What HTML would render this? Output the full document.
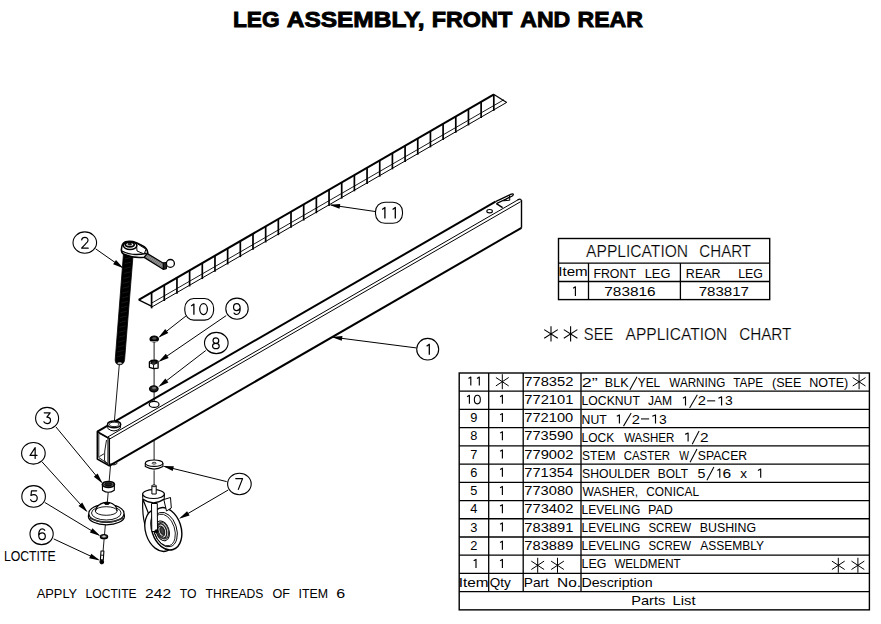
<!DOCTYPE html>
<html><head><meta charset="utf-8"><title>Leg Assembly, Front and Rear</title>
<style>
html,body{margin:0;padding:0;background:#fff;}
body{width:881px;height:624px;overflow:hidden;}
svg{display:block;font-family:"Liberation Sans",sans-serif;}
text{fill:#000;}
.thin{stroke:#fff;stroke-width:0.2px;}
</style></head><body>
<svg width="881" height="624" viewBox="0 0 881 624">
<rect width="881" height="624" fill="#fff"/>
<line x1="138.70" y1="299.80" x2="494.00" y2="94.45" stroke="#000" stroke-width="2.1"/>
<line x1="494.00" y1="94.45" x2="506.70" y2="102.40" stroke="#000" stroke-width="1.2"/>
<line x1="138.70" y1="299.80" x2="151.40" y2="306.20" stroke="#000" stroke-width="1.3"/>
<line x1="151.60" y1="303.15" x2="503.80" y2="99.79" stroke="#000" stroke-width="0.9"/>
<line x1="151.60" y1="307.15" x2="506.70" y2="102.42" stroke="#000" stroke-width="1.0"/>
<line x1="151.60" y1="292.15" x2="151.60" y2="308.35" stroke="#000" stroke-width="1.7"/>
<line x1="164.27" y1="284.83" x2="164.27" y2="301.03" stroke="#000" stroke-width="1.7"/>
<line x1="176.95" y1="277.52" x2="176.95" y2="293.72" stroke="#000" stroke-width="1.7"/>
<line x1="189.62" y1="270.20" x2="189.62" y2="286.40" stroke="#000" stroke-width="1.7"/>
<line x1="202.30" y1="262.88" x2="202.30" y2="279.08" stroke="#000" stroke-width="1.7"/>
<line x1="214.97" y1="255.56" x2="214.97" y2="271.76" stroke="#000" stroke-width="1.7"/>
<line x1="227.64" y1="248.24" x2="227.64" y2="264.44" stroke="#000" stroke-width="1.7"/>
<line x1="240.32" y1="240.93" x2="240.32" y2="257.13" stroke="#000" stroke-width="1.7"/>
<line x1="252.99" y1="233.61" x2="252.99" y2="249.81" stroke="#000" stroke-width="1.7"/>
<line x1="265.67" y1="226.29" x2="265.67" y2="242.49" stroke="#000" stroke-width="1.7"/>
<line x1="278.34" y1="218.97" x2="278.34" y2="235.17" stroke="#000" stroke-width="1.7"/>
<line x1="291.01" y1="211.65" x2="291.01" y2="227.85" stroke="#000" stroke-width="1.7"/>
<line x1="303.69" y1="204.34" x2="303.69" y2="220.54" stroke="#000" stroke-width="1.7"/>
<line x1="316.36" y1="197.02" x2="316.36" y2="213.22" stroke="#000" stroke-width="1.7"/>
<line x1="329.04" y1="189.70" x2="329.04" y2="205.90" stroke="#000" stroke-width="1.7"/>
<line x1="341.71" y1="182.38" x2="341.71" y2="198.58" stroke="#000" stroke-width="1.7"/>
<line x1="354.38" y1="175.06" x2="354.38" y2="191.26" stroke="#000" stroke-width="1.7"/>
<line x1="367.06" y1="167.75" x2="367.06" y2="183.95" stroke="#000" stroke-width="1.7"/>
<line x1="379.73" y1="160.43" x2="379.73" y2="176.63" stroke="#000" stroke-width="1.7"/>
<line x1="392.41" y1="153.11" x2="392.41" y2="169.31" stroke="#000" stroke-width="1.7"/>
<line x1="405.08" y1="145.79" x2="405.08" y2="161.99" stroke="#000" stroke-width="1.7"/>
<line x1="417.75" y1="138.47" x2="417.75" y2="154.67" stroke="#000" stroke-width="1.7"/>
<line x1="430.43" y1="131.16" x2="430.43" y2="147.36" stroke="#000" stroke-width="1.7"/>
<line x1="443.10" y1="123.84" x2="443.10" y2="140.04" stroke="#000" stroke-width="1.7"/>
<line x1="455.78" y1="116.52" x2="455.78" y2="132.72" stroke="#000" stroke-width="1.7"/>
<line x1="468.45" y1="109.20" x2="468.45" y2="125.40" stroke="#000" stroke-width="1.7"/>
<line x1="481.12" y1="101.88" x2="481.12" y2="118.08" stroke="#000" stroke-width="1.7"/>
<line x1="493.80" y1="94.57" x2="493.80" y2="110.77" stroke="#000" stroke-width="1.7"/>
<line x1="97.30" y1="431.60" x2="495.50" y2="201.68" stroke="#000" stroke-width="2.0"/>
<line x1="108.00" y1="436.85" x2="518.50" y2="199.53" stroke="#000" stroke-width="1.0"/>
<line x1="109.30" y1="439.20" x2="520.50" y2="201.77" stroke="#000" stroke-width="1.0"/>
<line x1="109.30" y1="465.80" x2="521.50" y2="227.80" stroke="#000" stroke-width="2.0"/>
<line x1="521.50" y1="200.20" x2="521.50" y2="227.80" stroke="#000" stroke-width="1.4"/>
<path d="M517.50 200.11 Q521.5 197.60 521.5 201.70" fill="none" stroke="#000" stroke-width="1.2"/>
<line x1="495.50" y1="201.68" x2="511.80" y2="193.90" stroke="#000" stroke-width="1.5"/>
<line x1="496.40" y1="203.60" x2="512.40" y2="196.00" stroke="#000" stroke-width="1.3"/>
<path d="M511.8 193.9 Q514.6 193.6 512.4 196.0" fill="none" stroke="#000" stroke-width="1.3"/>
<line x1="496.40" y1="203.60" x2="502.60" y2="207.70" stroke="#000" stroke-width="1.4"/>
<path d="M503.60 200.80 L509.60 197.00 L509.80 200.20 Z" fill="none" stroke="#000" stroke-width="1.0" stroke-linejoin="round"/>
<line x1="509.60" y1="197.00" x2="509.20" y2="195.20" stroke="#000" stroke-width="1.0"/>
<ellipse cx="489.60" cy="211.20" rx="2.80" ry="1.70" fill="none" stroke="#000" stroke-width="1.1"/>
<path d="M97.30 431.60 L109.30 438.40 L109.30 465.80 L97.30 459.00 Z" fill="none" stroke="#000" stroke-width="1.5" stroke-linejoin="round"/>
<path d="M98.80 433.20 L107.90 438.20 L107.90 463.60 L98.80 457.60 Z" fill="none" stroke="#000" stroke-width="0.9" stroke-linejoin="round"/>
<path d="M106.5 440 Q104 452 104.5 460 Q105 463 107.5 463.5" fill="none" stroke="#000" stroke-width="0.9"/>
<line x1="99.50" y1="456.50" x2="104.00" y2="453.80" stroke="#000" stroke-width="0.9"/>
<path d="M107.6 424.6 L107.9 428.6 Q114 433.5 120.3 428.2 L120.6 424.4" fill="#fff" stroke="#000" stroke-width="1.0"/>
<ellipse cx="114.10" cy="424.40" rx="6.60" ry="3.40" fill="#fff" stroke="#000" stroke-width="1.5"/>
<ellipse cx="114.10" cy="424.40" rx="4.60" ry="2.20" fill="none" stroke="#000" stroke-width="0.9"/>
<path d="M110.5 463.5 Q114 466.5 117.5 463.0" fill="none" stroke="#000" stroke-width="1.0"/>
<line x1="119.35" y1="364.00" x2="114.40" y2="421.00" stroke="#000" stroke-width="0.9"/>
<line x1="110.57" y1="465.00" x2="109.13" y2="481.50" stroke="#000" stroke-width="0.9"/>
<line x1="108.22" y1="492.00" x2="107.26" y2="503.00" stroke="#000" stroke-width="0.9"/>
<line x1="105.39" y1="524.50" x2="104.48" y2="535.00" stroke="#000" stroke-width="0.9"/>
<line x1="104.17" y1="538.50" x2="103.09" y2="551.00" stroke="#000" stroke-width="0.9"/>
<path d="M123.6 252 L133.3 252 L124.6 359.5 Q124.2 364.6 119.6 364.8 Q115.3 364.6 115.2 360 Z" fill="#000" stroke="#000" stroke-width="0.8"/>
<ellipse cx="119.70" cy="363.20" rx="2.00" ry="0.60" fill="#ddd" stroke="#ddd" stroke-width="0.5"/>
<line x1="125.15" y1="258.80" x2="131.55" y2="257.20" stroke="#333" stroke-width="0.5"/>
<line x1="124.73" y1="263.70" x2="131.13" y2="262.10" stroke="#333" stroke-width="0.5"/>
<line x1="124.32" y1="268.60" x2="130.72" y2="267.00" stroke="#333" stroke-width="0.5"/>
<line x1="123.91" y1="273.50" x2="130.31" y2="271.90" stroke="#333" stroke-width="0.5"/>
<line x1="123.49" y1="278.40" x2="129.89" y2="276.80" stroke="#333" stroke-width="0.5"/>
<line x1="123.08" y1="283.30" x2="129.48" y2="281.70" stroke="#333" stroke-width="0.5"/>
<line x1="122.67" y1="288.20" x2="129.07" y2="286.60" stroke="#333" stroke-width="0.5"/>
<line x1="122.25" y1="293.10" x2="128.65" y2="291.50" stroke="#333" stroke-width="0.5"/>
<line x1="121.84" y1="298.00" x2="128.24" y2="296.40" stroke="#333" stroke-width="0.5"/>
<line x1="121.42" y1="302.90" x2="127.82" y2="301.30" stroke="#333" stroke-width="0.5"/>
<line x1="121.01" y1="307.80" x2="127.41" y2="306.20" stroke="#333" stroke-width="0.5"/>
<line x1="120.60" y1="312.70" x2="127.00" y2="311.10" stroke="#333" stroke-width="0.5"/>
<line x1="120.18" y1="317.60" x2="126.58" y2="316.00" stroke="#333" stroke-width="0.5"/>
<line x1="119.77" y1="322.50" x2="126.17" y2="320.90" stroke="#333" stroke-width="0.5"/>
<line x1="119.36" y1="327.40" x2="125.76" y2="325.80" stroke="#333" stroke-width="0.5"/>
<line x1="118.94" y1="332.30" x2="125.34" y2="330.70" stroke="#333" stroke-width="0.5"/>
<line x1="118.53" y1="337.20" x2="124.93" y2="335.60" stroke="#333" stroke-width="0.5"/>
<line x1="118.12" y1="342.10" x2="124.52" y2="340.50" stroke="#333" stroke-width="0.5"/>
<line x1="117.70" y1="347.00" x2="124.10" y2="345.40" stroke="#333" stroke-width="0.5"/>
<line x1="117.29" y1="351.90" x2="123.69" y2="350.30" stroke="#333" stroke-width="0.5"/>
<line x1="116.88" y1="356.80" x2="123.28" y2="355.20" stroke="#333" stroke-width="0.5"/>
<path d="M121.4 249.6 Q121.0 252.2 123.5 254.0 Q133 258.5 144.5 257.2 L147.8 253.0 Q147.5 248 142 245.5 L136.4 242.8 Q131 240.6 125.5 241.8 Q121.6 243.5 121.4 249.6 Z" fill="#fff" stroke="#000" stroke-width="1.6"/>
<path d="M122.0 251.0 Q132 256.6 146.5 253.2" fill="none" stroke="#000" stroke-width="1.4"/>
<path d="M136.4 243.2 L146.0 249.2 L144.2 254.0 L137.0 251.0 Z" fill="#fff" stroke="#000" stroke-width="1.0"/>
<ellipse cx="130.10" cy="245.60" rx="6.80" ry="3.80" fill="#fff" stroke="#000" stroke-width="1.5"/>
<ellipse cx="129.80" cy="244.60" rx="4.40" ry="2.30" fill="#fff" stroke="#000" stroke-width="1.7"/>
<ellipse cx="129.80" cy="244.20" rx="1.80" ry="0.90" fill="#333" stroke="#000" stroke-width="0.8"/>
<path d="M147.40 253.60 L164.20 263.80 L163.20 269.20 L144.20 257.40 Z" fill="#bbb" stroke="#000" stroke-width="1.3" stroke-linejoin="round"/>
<line x1="146.60" y1="254.55" x2="163.95" y2="265.15" stroke="#333" stroke-width="0.6"/>
<line x1="145.80" y1="255.50" x2="163.70" y2="266.50" stroke="#333" stroke-width="0.6"/>
<line x1="145.00" y1="256.45" x2="163.45" y2="267.85" stroke="#333" stroke-width="0.6"/>
<path d="M163.20 262.80 L166.80 262.40 L166.50 268.80 L163.20 269.50 Z" fill="#222" stroke="#000" stroke-width="1.0" stroke-linejoin="round"/>
<ellipse cx="170.40" cy="263.40" rx="4.00" ry="3.90" fill="#fff" stroke="#000" stroke-width="1.3"/>
<path d="M102.4 484.4 L102.5 490.2 Q108.4 494.4 114.3 490.2 L114.4 484.4" fill="#fff" stroke="#000" stroke-width="1.1"/>
<ellipse cx="108.40" cy="484.40" rx="6.00" ry="2.90" fill="#666" stroke="#000" stroke-width="1.7"/>
<ellipse cx="108.40" cy="484.40" rx="3.60" ry="1.50" fill="#222" stroke="#000" stroke-width="0.9"/>
<ellipse cx="106.40" cy="516.20" rx="18.00" ry="8.60" fill="#fff" stroke="#000" stroke-width="1.3"/>
<ellipse cx="106.40" cy="513.40" rx="17.60" ry="9.00" fill="#fff" stroke="#000" stroke-width="1.2"/>
<ellipse cx="106.30" cy="513.00" rx="14.80" ry="7.00" fill="none" stroke="#000" stroke-width="0.9"/>
<path d="M95.6 511.0 Q96 505 104 502.6 L109.5 502.6 Q117 505 117 511" fill="#fff" stroke="#000" stroke-width="1.1"/>
<ellipse cx="106.20" cy="511.00" rx="11.00" ry="4.30" fill="none" stroke="#000" stroke-width="0.9"/>
<ellipse cx="106.90" cy="503.30" rx="2.60" ry="1.20" fill="#000" stroke="#000" stroke-width="1.0"/>
<path d="M90 518 Q106 526 123 518" fill="none" stroke="#333" stroke-width="1.4"/>
<ellipse cx="104.00" cy="536.70" rx="3.60" ry="2.00" fill="#444" stroke="#000" stroke-width="1.3"/>
<ellipse cx="104.00" cy="536.40" rx="1.50" ry="0.60" fill="#ccc" stroke="#ccc" stroke-width="0.6"/>
<path d="M101.00 551.00 L103.90 551.00 L103.30 560.00 L100.40 560.00 Z" fill="#fff" stroke="#000" stroke-width="1.1" stroke-linejoin="round"/>
<line x1="100.90" y1="555.20" x2="103.70" y2="555.20" stroke="#000" stroke-width="0.9"/>
<ellipse cx="101.80" cy="561.90" rx="1.90" ry="2.00" fill="#000" stroke="#000" stroke-width="1.0"/>
<line x1="154.10" y1="342.00" x2="154.10" y2="401.30" stroke="#000" stroke-width="0.9"/>
<ellipse cx="154.20" cy="339.00" rx="4.20" ry="3.00" fill="#000" stroke="#000" stroke-width="1.2"/>
<line x1="150.80" y1="341.60" x2="157.60" y2="341.60" stroke="#bbb" stroke-width="0.9"/>
<ellipse cx="154.30" cy="338.40" rx="2.00" ry="0.90" fill="#555" stroke="#555" stroke-width="0.7"/>
<path d="M149.40 362.10 L151.30 360.40 L155.80 360.10 L158.10 361.40 L158.10 368.10 L153.60 368.70 L149.40 367.30 Z" fill="#fff" stroke="#000" stroke-width="1.3" stroke-linejoin="round"/>
<path d="M149.40 362.60 L153.60 364.60 L158.10 362.60" fill="none" stroke="#000" stroke-width="1.0" stroke-linejoin="round"/>
<line x1="153.60" y1="364.60" x2="153.60" y2="368.60" stroke="#000" stroke-width="1.0"/>
<ellipse cx="154.00" cy="362.00" rx="2.60" ry="1.20" fill="#555" stroke="#000" stroke-width="1.2"/>
<ellipse cx="153.80" cy="388.80" rx="4.20" ry="2.90" fill="#222" stroke="#000" stroke-width="1.4"/>
<ellipse cx="154.10" cy="388.00" rx="1.80" ry="0.80" fill="#888" stroke="#888" stroke-width="0.6"/>
<ellipse cx="154.10" cy="404.40" rx="4.90" ry="3.00" fill="none" stroke="#000" stroke-width="1.2"/>
<line x1="154.10" y1="440.50" x2="154.10" y2="460.00" stroke="#000" stroke-width="0.9"/>
<line x1="154.10" y1="470.30" x2="154.10" y2="485.30" stroke="#000" stroke-width="0.9"/>
<path d="M145.3 463.2 L145.3 466.6 Q154.1 471.6 162.9 466.6 L162.9 463.2" fill="#fff" stroke="#000" stroke-width="1.1"/>
<ellipse cx="154.10" cy="463.20" rx="8.80" ry="3.20" fill="#fff" stroke="#000" stroke-width="1.2"/>
<ellipse cx="154.10" cy="463.20" rx="2.00" ry="0.90" fill="none" stroke="#000" stroke-width="0.8"/>
<path d="M142.8 499 C142.3 510 143 520 146 528 L155 530 Z" fill="#fff" stroke="#000" stroke-width="1.2"/>
<ellipse cx="160.20" cy="530.40" rx="14.60" ry="21.60" fill="#fff" stroke="#000" stroke-width="1.3" transform="rotate(-18 160.20 530.40)"/>
<ellipse cx="166.40" cy="528.80" rx="14.60" ry="21.80" fill="#fff" stroke="#000" stroke-width="1.4" transform="rotate(-18 166.40 528.80)"/>
<ellipse cx="165.20" cy="529.60" rx="11.40" ry="17.80" fill="none" stroke="#000" stroke-width="0.9" transform="rotate(-18 165.20 529.60)"/>
<ellipse cx="164.40" cy="530.00" rx="10.20" ry="16.40" fill="none" stroke="#000" stroke-width="0.8" transform="rotate(-18 164.40 530.00)"/>
<ellipse cx="162.60" cy="530.80" rx="6.40" ry="10.20" fill="none" stroke="#000" stroke-width="1.0" transform="rotate(-18 162.60 530.80)"/>
<ellipse cx="161.90" cy="531.00" rx="4.60" ry="7.40" fill="none" stroke="#222" stroke-width="1.4" transform="rotate(-18 161.90 531.00)"/>
<ellipse cx="161.30" cy="531.20" rx="3.00" ry="5.20" fill="none" stroke="#222" stroke-width="1.4" transform="rotate(-18 161.30 531.20)"/>
<ellipse cx="163.00" cy="530.60" rx="5.40" ry="8.60" fill="none" stroke="#333" stroke-width="1.2" transform="rotate(-18 163.00 530.60)"/>
<ellipse cx="162.20" cy="530.90" rx="2.00" ry="3.60" fill="#444" stroke="#222" stroke-width="1.2" transform="rotate(-18 162.20 530.90)"/>
<path d="M151.50 503.50 L157.30 503.50 L157.50 531.50 L151.80 531.50 Z" fill="#fff" stroke="#000" stroke-width="1.0" stroke-linejoin="round"/>
<ellipse cx="156.30" cy="531.20" rx="1.50" ry="1.50" fill="#000" stroke="#000" stroke-width="0.8"/>
<path d="M163.80 499.50 L170.50 497.50 L171.30 508.00 L166.50 511.00 Z" fill="#fff" stroke="#000" stroke-width="1.0" stroke-linejoin="round"/>
<path d="M142.6 494.1 L142.8 499.0 Q153.5 506.5 164.2 499.0 L164.4 494.1" fill="#fff" stroke="#000" stroke-width="1.1"/>
<ellipse cx="153.50" cy="494.10" rx="10.90" ry="4.40" fill="#fff" stroke="#000" stroke-width="1.2"/>
<path d="M151.90 485.80 L151.90 494.00 L156.20 494.00 L156.20 485.80 Z" fill="#fff" stroke="#000" stroke-width="1.0" stroke-linejoin="round"/>
<ellipse cx="154.05" cy="485.80" rx="2.15" ry="0.90" fill="#fff" stroke="#000" stroke-width="0.9"/>
<line x1="416.10" y1="347.90" x2="333.38" y2="337.26" stroke="#000" stroke-width="1.0"/><path d="M331.40 337.00 L342.43 335.90 L341.79 340.86 Z" fill="#000"/>
<line x1="95.60" y1="248.80" x2="121.76" y2="267.15" stroke="#000" stroke-width="1.0"/><path d="M123.40 268.30 L113.12 264.14 L115.99 260.05 Z" fill="#000"/>
<line x1="55.90" y1="426.90" x2="101.33" y2="481.96" stroke="#000" stroke-width="1.0"/><path d="M102.60 483.50 L93.80 476.76 L97.65 473.58 Z" fill="#000"/>
<line x1="41.90" y1="461.70" x2="86.26" y2="510.82" stroke="#000" stroke-width="1.0"/><path d="M87.60 512.30 L78.51 505.96 L82.22 502.61 Z" fill="#000"/>
<line x1="44.70" y1="502.40" x2="98.69" y2="534.97" stroke="#000" stroke-width="1.0"/><path d="M100.40 536.00 L89.86 532.56 L92.44 528.28 Z" fill="#000"/>
<line x1="53.70" y1="538.90" x2="98.19" y2="559.65" stroke="#000" stroke-width="1.0"/><path d="M100.00 560.50 L89.16 558.20 L91.27 553.67 Z" fill="#000"/>
<line x1="226.70" y1="481.60" x2="164.74" y2="466.47" stroke="#000" stroke-width="1.0"/><path d="M162.80 466.00 L173.88 466.13 L172.70 470.99 Z" fill="#000"/>
<line x1="228.20" y1="490.00" x2="180.73" y2="517.74" stroke="#000" stroke-width="1.0"/><path d="M179.00 518.75 L187.06 511.14 L189.59 515.46 Z" fill="#000"/>
<line x1="205.80" y1="350.50" x2="159.89" y2="385.78" stroke="#000" stroke-width="1.0"/><path d="M158.30 387.00 L165.34 378.44 L168.39 382.40 Z" fill="#000"/>
<line x1="226.20" y1="315.60" x2="159.95" y2="360.87" stroke="#000" stroke-width="1.0"/><path d="M158.30 362.00 L165.81 353.84 L168.63 357.97 Z" fill="#000"/>
<line x1="186.20" y1="315.80" x2="159.87" y2="336.47" stroke="#000" stroke-width="1.0"/><path d="M158.30 337.70 L165.25 329.07 L168.34 333.00 Z" fill="#000"/>
<line x1="375.20" y1="211.50" x2="331.18" y2="205.09" stroke="#000" stroke-width="1.0"/><path d="M329.20 204.80 L340.25 203.88 L339.53 208.83 Z" fill="#000"/>
<ellipse cx="427.70" cy="349.20" rx="11.00" ry="10.80" fill="none" stroke="#000" stroke-width="1.1"/><path d="M426.60 346.30 L429.30 344.30 V354.70" fill="none" stroke="#000" stroke-width="1.3" stroke-linejoin="round"/>
<ellipse cx="84.80" cy="242.60" rx="11.80" ry="10.70" fill="none" stroke="#000" stroke-width="1.1"/><path d="M0.3 2.6 C0.6 0.6 2.2 0 3.8 0 C5.7 0 7.2 1.2 7.2 3.0 C7.2 4.6 6.1 5.6 4.6 6.6 L0.2 11 L7.4 11" transform="translate(81.40 237.35) scale(0.9211 0.9818)" fill="none" stroke="#000" stroke-width="1.2" vector-effect="non-scaling-stroke" stroke-linejoin="round" stroke-linecap="round"/>
<ellipse cx="47.10" cy="418.20" rx="11.50" ry="10.80" fill="none" stroke="#000" stroke-width="1.1"/><path d="M0.6 0 L7.0 0 L3.4 4.4 C5.8 4.4 7.4 5.6 7.4 7.6 C7.4 9.8 5.8 11 3.8 11 C2.2 11 0.8 10.4 0.2 9.2" transform="translate(43.70 412.80) scale(0.9211 0.9818)" fill="none" stroke="#000" stroke-width="1.2" vector-effect="non-scaling-stroke" stroke-linejoin="round" stroke-linecap="round"/>
<ellipse cx="33.40" cy="453.30" rx="11.80" ry="10.80" fill="none" stroke="#000" stroke-width="1.1"/><path d="M5.6 11 L5.6 0 L0 8 L7.6 8" transform="translate(30.00 447.60) scale(0.9211 0.9818)" fill="none" stroke="#000" stroke-width="1.2" vector-effect="non-scaling-stroke" stroke-linejoin="round" stroke-linecap="round"/>
<ellipse cx="33.60" cy="496.40" rx="11.80" ry="10.80" fill="none" stroke="#000" stroke-width="1.1"/><path d="M6.8 0 L1.2 0 L0.6 4.8 C1.6 4.1 2.7 3.9 3.8 3.9 C6.0 3.9 7.4 5.3 7.4 7.4 C7.4 9.6 5.8 11 3.7 11 C2.1 11 0.8 10.3 0.2 9.1" transform="translate(30.40 490.80) scale(0.9211 0.9818)" fill="none" stroke="#000" stroke-width="1.2" vector-effect="non-scaling-stroke" stroke-linejoin="round" stroke-linecap="round"/>
<ellipse cx="41.60" cy="534.00" rx="11.60" ry="10.60" fill="none" stroke="#000" stroke-width="1.1"/><path d="M6.8 1.4 C6.2 0.5 5.2 0 4.1 0 C1.4 0 0.2 2.6 0.2 6.0 C0.2 9.2 1.6 11 3.9 11 C6.0 11 7.4 9.6 7.4 7.4 C7.4 5.3 6.0 4.0 4.0 4.0 C2.2 4.0 0.8 5.0 0.3 6.6" transform="translate(38.50 528.90) scale(0.9211 0.9818)" fill="none" stroke="#000" stroke-width="1.2" vector-effect="non-scaling-stroke" stroke-linejoin="round" stroke-linecap="round"/>
<ellipse cx="239.40" cy="484.00" rx="11.80" ry="10.70" fill="none" stroke="#000" stroke-width="1.1"/><path d="M0 0 L7.4 0 L2.8 11" transform="translate(235.75 478.60) scale(0.9211 0.9818)" fill="none" stroke="#000" stroke-width="1.2" vector-effect="non-scaling-stroke" stroke-linejoin="round" stroke-linecap="round"/>
<ellipse cx="216.30" cy="343.00" rx="11.80" ry="10.60" fill="none" stroke="#000" stroke-width="1.1"/><path d="M3.8 0 C5.6 0 6.9 1.2 6.9 2.8 C6.9 4.4 5.6 5.5 3.8 5.5 C2.0 5.5 0.7 4.4 0.7 2.8 C0.7 1.2 2.0 0 3.8 0 Z M3.8 5.5 C5.9 5.5 7.4 6.6 7.4 8.2 C7.4 9.9 5.9 11 3.8 11 C1.7 11 0.2 9.9 0.2 8.2 C0.2 6.6 1.7 5.5 3.8 5.5 Z" transform="translate(212.40 337.90) scale(0.9211 0.9818)" fill="none" stroke="#000" stroke-width="1.2" vector-effect="non-scaling-stroke" stroke-linejoin="round" stroke-linecap="round"/>
<ellipse cx="237.00" cy="308.70" rx="11.20" ry="10.60" fill="none" stroke="#000" stroke-width="1.1"/><path d="M0.6 9.6 C1.2 10.5 2.2 11 3.3 11 C6.0 11 7.2 8.4 7.2 5.0 C7.2 1.8 5.8 0 3.5 0 C1.4 0 0 1.4 0 3.6 C0 5.7 1.4 7.0 3.4 7.0 C5.2 7.0 6.6 6.0 7.1 4.4" transform="translate(233.55 303.70) scale(0.9211 0.9818)" fill="none" stroke="#000" stroke-width="1.2" vector-effect="non-scaling-stroke" stroke-linejoin="round" stroke-linecap="round"/>
<rect x="184.80" y="298.50" width="28.80" height="21.60" rx="9.0" ry="9.5" fill="none" stroke="#000" stroke-width="1.1"/><path d="M191.20 306.10 L193.90 304.10 V314.70" fill="none" stroke="#000" stroke-width="1.3" stroke-linejoin="round"/><ellipse cx="203.55" cy="309.10" rx="3.85" ry="5.45" fill="none" stroke="#000" stroke-width="1.25"/>
<rect x="375.50" y="202.20" width="27.00" height="21.10" rx="9.5" ry="9.5" fill="none" stroke="#000" stroke-width="1.1"/><path d="M382.20 209.40 L384.90 207.40 V218.40" fill="none" stroke="#000" stroke-width="1.3" stroke-linejoin="round"/><path d="M392.60 209.40 L395.30 207.40 V218.40" fill="none" stroke="#000" stroke-width="1.3" stroke-linejoin="round"/>
<rect x="459.2" y="373.0" width="410.2" height="236.86" fill="none" stroke="#000" stroke-width="1.4"/>
<line x1="459.2" y1="391.22" x2="869.4" y2="391.22" stroke="#000" stroke-width="1.3"/>
<line x1="459.2" y1="409.44" x2="869.4" y2="409.44" stroke="#000" stroke-width="1.3"/>
<line x1="459.2" y1="427.66" x2="869.4" y2="427.66" stroke="#000" stroke-width="1.3"/>
<line x1="459.2" y1="445.88" x2="869.4" y2="445.88" stroke="#000" stroke-width="1.3"/>
<line x1="459.2" y1="464.10" x2="869.4" y2="464.10" stroke="#000" stroke-width="1.3"/>
<line x1="459.2" y1="482.32" x2="869.4" y2="482.32" stroke="#000" stroke-width="1.3"/>
<line x1="459.2" y1="500.54" x2="869.4" y2="500.54" stroke="#000" stroke-width="1.3"/>
<line x1="459.2" y1="518.76" x2="869.4" y2="518.76" stroke="#000" stroke-width="1.3"/>
<line x1="459.2" y1="536.98" x2="869.4" y2="536.98" stroke="#000" stroke-width="1.3"/>
<line x1="459.2" y1="555.20" x2="869.4" y2="555.20" stroke="#000" stroke-width="1.3"/>
<line x1="459.2" y1="573.42" x2="869.4" y2="573.42" stroke="#000" stroke-width="1.3"/>
<line x1="459.2" y1="591.64" x2="869.4" y2="591.64" stroke="#000" stroke-width="1.3"/>
<line x1="488.7" y1="373.0" x2="488.7" y2="591.64" stroke="#000" stroke-width="1.3"/>
<line x1="523.2" y1="373.0" x2="523.2" y2="591.64" stroke="#000" stroke-width="1.3"/>
<line x1="581.0" y1="373.0" x2="581.0" y2="591.64" stroke="#000" stroke-width="1.3"/>
<path d="M468.50 378.40 L470.80 377.00 V385.60" fill="none" stroke="#000" stroke-width="1.15" stroke-linejoin="round"/>
<path d="M477.00 378.40 L479.30 377.00 V385.60" fill="none" stroke="#000" stroke-width="1.15" stroke-linejoin="round"/>
<path d="M502.30 374.21V389.21M495.90 377.51L508.70 385.91M495.90 385.91L508.70 377.51" stroke="#000" stroke-width="1.0" fill="none"/>
<text x="524.33" y="385.60" font-size="12.8" textLength="49.04" lengthAdjust="spacingAndGlyphs">778352</text>
<text x="581.70" y="387.40" font-size="12.8" textLength="15.96" lengthAdjust="spacingAndGlyphs">2”</text>
<text x="604.87" y="387.40" font-size="12.8" textLength="23.69" lengthAdjust="spacingAndGlyphs">BLK</text>
<line x1="629.80" y1="390.00" x2="637.00" y2="376.80" stroke="#000" stroke-width="1.05"/>
<text x="637.73" y="387.40" font-size="12.8" textLength="22.46" lengthAdjust="spacingAndGlyphs">YEL</text>
<text x="669.34" y="387.40" font-size="12.8" textLength="55.95" lengthAdjust="spacingAndGlyphs">WARNING</text>
<text x="733.34" y="387.40" font-size="12.8" textLength="29.76" lengthAdjust="spacingAndGlyphs">TAPE</text>
<text x="772.01" y="387.40" font-size="12.8" textLength="29.41" lengthAdjust="spacingAndGlyphs">(SEE</text>
<text x="809.16" y="387.40" font-size="12.8" textLength="39.03" lengthAdjust="spacingAndGlyphs">NOTE)</text>
<path d="M467.10 396.64 L469.40 395.24 V403.84" fill="none" stroke="#000" stroke-width="1.15" stroke-linejoin="round"/>
<ellipse cx="477.35" cy="399.54" rx="3.0" ry="4.35" fill="none" stroke="#000" stroke-width="1.1"/>
<path d="M500.10 396.64 L502.40 395.24 V403.84" fill="none" stroke="#000" stroke-width="1.15" stroke-linejoin="round"/>
<text x="524.33" y="403.84" font-size="12.8" textLength="49.00" lengthAdjust="spacingAndGlyphs">772101</text>
<text x="581.59" y="405.46" font-size="12.8" textLength="58.29" lengthAdjust="spacingAndGlyphs">LOCKNUT</text>
<text x="647.92" y="405.46" font-size="12.8" textLength="24.18" lengthAdjust="spacingAndGlyphs">JAM</text>
<path d="M682.90 398.26 L685.50 396.86 V405.46" fill="none" stroke="#000" stroke-width="1.15" stroke-linejoin="round"/>
<line x1="689.60" y1="408.06" x2="697.30" y2="394.86" stroke="#000" stroke-width="1.05"/>
<text x="697.86" y="405.46" font-size="12.8" textLength="8.19" lengthAdjust="spacingAndGlyphs">2</text>
<line x1="707.10" y1="400.86" x2="715.20" y2="400.86" stroke="#000" stroke-width="1.05"/>
<path d="M718.40 398.26 L721.60 396.86 V405.46" fill="none" stroke="#000" stroke-width="1.15" stroke-linejoin="round"/>
<text x="725.08" y="405.46" font-size="12.8" textLength="7.73" lengthAdjust="spacingAndGlyphs">3</text>
<text x="473.90" y="422.08" font-size="12.8" text-anchor="middle">9</text>
<path d="M500.10 414.88 L502.40 413.48 V422.08" fill="none" stroke="#000" stroke-width="1.15" stroke-linejoin="round"/>
<text x="524.33" y="422.08" font-size="12.8" textLength="48.85" lengthAdjust="spacingAndGlyphs">772100</text>
<text x="581.59" y="423.52" font-size="12.8" textLength="25.08" lengthAdjust="spacingAndGlyphs">NUT</text>
<path d="M616.80 416.32 L619.40 414.92 V423.52" fill="none" stroke="#000" stroke-width="1.15" stroke-linejoin="round"/>
<line x1="623.50" y1="426.12" x2="631.20" y2="412.92" stroke="#000" stroke-width="1.05"/>
<text x="631.76" y="423.52" font-size="12.8" textLength="8.19" lengthAdjust="spacingAndGlyphs">2</text>
<line x1="641.00" y1="418.92" x2="649.10" y2="418.92" stroke="#000" stroke-width="1.05"/>
<path d="M652.30 416.32 L655.50 414.92 V423.52" fill="none" stroke="#000" stroke-width="1.15" stroke-linejoin="round"/>
<text x="658.98" y="423.52" font-size="12.8" textLength="7.73" lengthAdjust="spacingAndGlyphs">3</text>
<text x="473.90" y="440.32" font-size="12.8" text-anchor="middle">8</text>
<path d="M500.10 433.12 L502.40 431.72 V440.32" fill="none" stroke="#000" stroke-width="1.15" stroke-linejoin="round"/>
<text x="524.33" y="440.32" font-size="12.8" textLength="48.85" lengthAdjust="spacingAndGlyphs">773590</text>
<text x="581.61" y="441.58" font-size="12.8" textLength="32.65" lengthAdjust="spacingAndGlyphs">LOCK</text>
<text x="624.14" y="441.58" font-size="12.8" textLength="50.20" lengthAdjust="spacingAndGlyphs">WASHER</text>
<path d="M685.20 434.38 L688.10 432.98 V441.58" fill="none" stroke="#000" stroke-width="1.15" stroke-linejoin="round"/>
<line x1="692.20" y1="444.18" x2="699.10" y2="430.98" stroke="#000" stroke-width="1.05"/>
<text x="700.03" y="441.58" font-size="12.8" textLength="8.56" lengthAdjust="spacingAndGlyphs">2</text>
<text x="473.90" y="458.56" font-size="12.8" text-anchor="middle">7</text>
<path d="M500.10 451.36 L502.40 449.96 V458.56" fill="none" stroke="#000" stroke-width="1.15" stroke-linejoin="round"/>
<text x="524.33" y="458.56" font-size="12.8" textLength="49.04" lengthAdjust="spacingAndGlyphs">779002</text>
<text x="582.06" y="459.64" font-size="12.8" textLength="33.44" lengthAdjust="spacingAndGlyphs">STEM</text>
<text x="623.63" y="459.64" font-size="12.8" textLength="46.40" lengthAdjust="spacingAndGlyphs">CASTER</text>
<text x="679.25" y="459.64" font-size="12.8" textLength="9.79" lengthAdjust="spacingAndGlyphs">W</text>
<line x1="690.10" y1="462.24" x2="697.00" y2="449.04" stroke="#000" stroke-width="1.05"/>
<text x="697.85" y="459.64" font-size="12.8" textLength="49.24" lengthAdjust="spacingAndGlyphs">SPACER</text>
<text x="473.90" y="476.80" font-size="12.8" text-anchor="middle">6</text>
<path d="M500.10 469.60 L502.40 468.20 V476.80" fill="none" stroke="#000" stroke-width="1.15" stroke-linejoin="round"/>
<text x="524.33" y="476.80" font-size="12.8" textLength="48.70" lengthAdjust="spacingAndGlyphs">771354</text>
<text x="582.05" y="477.70" font-size="12.8" textLength="67.92" lengthAdjust="spacingAndGlyphs">SHOULDER</text>
<text x="657.71" y="477.70" font-size="12.8" textLength="30.36" lengthAdjust="spacingAndGlyphs">BOLT</text>
<text x="697.63" y="477.70" font-size="12.8" textLength="7.96" lengthAdjust="spacingAndGlyphs">5</text>
<line x1="706.90" y1="480.30" x2="713.90" y2="467.10" stroke="#000" stroke-width="1.05"/>
<path d="M717.40 470.50 L719.80 469.10 V477.70" fill="none" stroke="#000" stroke-width="1.15" stroke-linejoin="round"/>
<text x="722.42" y="477.70" font-size="12.8" textLength="8.66" lengthAdjust="spacingAndGlyphs">6</text>
<text x="740.23" y="477.70" font-size="12.8" textLength="6.74" lengthAdjust="spacingAndGlyphs">x</text>
<path d="M757.90 470.50 L760.70 469.10 V477.70" fill="none" stroke="#000" stroke-width="1.15" stroke-linejoin="round"/>
<text x="473.90" y="495.04" font-size="12.8" text-anchor="middle">5</text>
<path d="M500.10 487.84 L502.40 486.44 V495.04" fill="none" stroke="#000" stroke-width="1.15" stroke-linejoin="round"/>
<text x="524.33" y="495.04" font-size="12.8" textLength="48.85" lengthAdjust="spacingAndGlyphs">773080</text>
<text x="582.54" y="495.76" font-size="12.8" textLength="55.64" lengthAdjust="spacingAndGlyphs">WASHER,</text>
<text x="646.31" y="495.76" font-size="12.8" textLength="52.68" lengthAdjust="spacingAndGlyphs">CONICAL</text>
<text x="473.90" y="513.28" font-size="12.8" text-anchor="middle">4</text>
<path d="M500.10 506.08 L502.40 504.68 V513.28" fill="none" stroke="#000" stroke-width="1.15" stroke-linejoin="round"/>
<text x="524.33" y="513.28" font-size="12.8" textLength="49.04" lengthAdjust="spacingAndGlyphs">773402</text>
<text x="581.61" y="513.82" font-size="12.8" textLength="58.60" lengthAdjust="spacingAndGlyphs">LEVELING</text>
<text x="647.96" y="513.82" font-size="12.8" textLength="24.93" lengthAdjust="spacingAndGlyphs">PAD</text>
<text x="473.90" y="531.52" font-size="12.8" text-anchor="middle">3</text>
<path d="M500.10 524.32 L502.40 522.92 V531.52" fill="none" stroke="#000" stroke-width="1.15" stroke-linejoin="round"/>
<text x="524.33" y="531.52" font-size="12.8" textLength="49.00" lengthAdjust="spacingAndGlyphs">783891</text>
<text x="581.61" y="531.88" font-size="12.8" textLength="58.60" lengthAdjust="spacingAndGlyphs">LEVELING</text>
<text x="648.48" y="531.88" font-size="12.8" textLength="42.67" lengthAdjust="spacingAndGlyphs">SCREW</text>
<text x="699.78" y="531.88" font-size="12.8" textLength="56.26" lengthAdjust="spacingAndGlyphs">BUSHING</text>
<text x="473.90" y="549.76" font-size="12.8" text-anchor="middle">2</text>
<path d="M500.10 542.56 L502.40 541.16 V549.76" fill="none" stroke="#000" stroke-width="1.15" stroke-linejoin="round"/>
<text x="524.33" y="549.76" font-size="12.8" textLength="48.96" lengthAdjust="spacingAndGlyphs">783889</text>
<text x="581.61" y="549.94" font-size="12.8" textLength="58.60" lengthAdjust="spacingAndGlyphs">LEVELING</text>
<text x="648.48" y="549.94" font-size="12.8" textLength="42.67" lengthAdjust="spacingAndGlyphs">SCREW</text>
<text x="700.27" y="549.94" font-size="12.8" textLength="63.69" lengthAdjust="spacingAndGlyphs">ASSEMBLY</text>
<path d="M473.70 560.80 L476.00 559.40 V568.00" fill="none" stroke="#000" stroke-width="1.15" stroke-linejoin="round"/>
<path d="M500.10 560.80 L502.40 559.40 V568.00" fill="none" stroke="#000" stroke-width="1.15" stroke-linejoin="round"/>
<path d="M537.70 557.81V572.81M531.30 561.11L544.10 569.51M531.30 569.51L544.10 561.11" stroke="#000" stroke-width="1.0" fill="none"/>
<path d="M557.50 557.81V572.81M551.10 561.11L563.90 569.51M551.10 569.51L563.90 561.11" stroke="#000" stroke-width="1.0" fill="none"/>
<text x="581.58" y="568.00" font-size="12.8" textLength="24.76" lengthAdjust="spacingAndGlyphs">LEG</text>
<text x="614.44" y="568.00" font-size="12.8" textLength="66.12" lengthAdjust="spacingAndGlyphs">WELDMENT</text>
<path d="M859.10 374.31V389.31M852.70 377.61L865.50 386.01M852.70 386.01L865.50 377.61" stroke="#000" stroke-width="1.0" fill="none"/>
<path d="M838.30 557.81V572.81M831.90 561.11L844.70 569.51M831.90 569.51L844.70 561.11" stroke="#000" stroke-width="1.0" fill="none"/>
<path d="M857.90 557.81V572.81M851.50 561.11L864.30 569.51M851.50 569.51L864.30 561.11" stroke="#000" stroke-width="1.0" fill="none"/>
<text x="458.78" y="586.80" font-size="12.8" textLength="29.81" lengthAdjust="spacingAndGlyphs">Item</text><text x="489.66" y="586.80" font-size="12.8" textLength="20.98" lengthAdjust="spacingAndGlyphs">Qty</text><text x="523.77" y="586.80" font-size="12.8" textLength="25.16" lengthAdjust="spacingAndGlyphs">Part</text><text x="557.02" y="586.80" font-size="12.8" textLength="24.09" lengthAdjust="spacingAndGlyphs">No.</text><text x="581.43" y="586.80" font-size="12.8" textLength="71.13" lengthAdjust="spacingAndGlyphs">Description</text>
<text x="631.19" y="605.00" font-size="12.8" textLength="34.10" lengthAdjust="spacingAndGlyphs">Parts</text><text x="672.58" y="605.00" font-size="12.8" textLength="22.94" lengthAdjust="spacingAndGlyphs">List</text>
<rect x="558.5" y="238.5" width="211.2" height="61.1" fill="none" stroke="#000" stroke-width="1.4"/>
<line x1="558.5" y1="263.1" x2="769.7" y2="263.1" stroke="#000" stroke-width="1.3"/>
<line x1="558.5" y1="281.5" x2="769.7" y2="281.5" stroke="#000" stroke-width="1.3"/>
<line x1="588.5" y1="263.1" x2="588.5" y2="299.6" stroke="#000" stroke-width="1.3"/>
<line x1="680.4" y1="263.1" x2="680.4" y2="299.6" stroke="#000" stroke-width="1.3"/>
<text x="586.06" y="256.70" font-size="16" textLength="102.11" lengthAdjust="spacingAndGlyphs" class="thin">APPLICATION</text><text x="699.35" y="256.70" font-size="16" textLength="51.71" lengthAdjust="spacingAndGlyphs" class="thin">CHART</text>
<text x="558.30" y="276.20" font-size="12.8" textLength="29.38" lengthAdjust="spacingAndGlyphs">Item</text>
<text x="593.38" y="277.70" font-size="12.8" textLength="42.62" lengthAdjust="spacingAndGlyphs">FRONT</text><text x="644.74" y="277.70" font-size="12.8" textLength="25.63" lengthAdjust="spacingAndGlyphs">LEG</text><text x="685.87" y="277.70" font-size="12.8" textLength="34.74" lengthAdjust="spacingAndGlyphs">REAR</text><text x="738.28" y="277.70" font-size="12.8" textLength="24.65" lengthAdjust="spacingAndGlyphs">LEG</text>
<path d="M573.10 288.20 L575.40 286.80 V296.00" fill="none" stroke="#000" stroke-width="1.15" stroke-linejoin="round"/>
<text x="604.29" y="296.00" font-size="13.2" textLength="51.39" lengthAdjust="spacingAndGlyphs">783816</text><text x="698.71" y="296.00" font-size="13.2" textLength="50.27" lengthAdjust="spacingAndGlyphs">783817</text>
<path d="M551.00 326.20V341.60M544.20 329.59L557.80 338.21M544.20 338.21L557.80 329.59" stroke="#000" stroke-width="1.1" fill="none"/>
<path d="M570.60 326.20V341.60M563.80 329.59L577.40 338.21M563.80 338.21L577.40 329.59" stroke="#000" stroke-width="1.1" fill="none"/>
<text x="583.84" y="339.90" font-size="17" textLength="29.47" lengthAdjust="spacingAndGlyphs" class="thin">SEE</text><text x="625.56" y="339.90" font-size="17" textLength="101.80" lengthAdjust="spacingAndGlyphs" class="thin">APPLICATION</text><text x="739.14" y="339.90" font-size="17" textLength="52.33" lengthAdjust="spacingAndGlyphs" class="thin">CHART</text>
<text x="36.72" y="598.40" font-size="13.6" textLength="40.47" lengthAdjust="spacingAndGlyphs">APPLY</text><text x="85.50" y="598.40" font-size="13.6" textLength="51.12" lengthAdjust="spacingAndGlyphs">LOCTITE</text><text x="145.02" y="598.40" font-size="13.6" textLength="26.08" lengthAdjust="spacingAndGlyphs">242</text><text x="179.82" y="598.40" font-size="13.6" textLength="16.76" lengthAdjust="spacingAndGlyphs">TO</text><text x="205.53" y="598.40" font-size="13.6" textLength="57.93" lengthAdjust="spacingAndGlyphs">THREADS</text><text x="272.40" y="598.40" font-size="13.6" textLength="17.52" lengthAdjust="spacingAndGlyphs">OF</text><text x="298.45" y="598.40" font-size="13.6" textLength="29.58" lengthAdjust="spacingAndGlyphs">ITEM</text><text x="336.20" y="598.40" font-size="13.6" textLength="8.90" lengthAdjust="spacingAndGlyphs">6</text>
<text x="3.89" y="561.00" font-size="14.2" textLength="51.84" lengthAdjust="spacingAndGlyphs">LOCTITE</text>
<text x="232.91" y="26.80" font-size="22.4" font-weight="bold" textLength="46.77" lengthAdjust="spacingAndGlyphs" stroke="#000" stroke-width="0.9">LEG</text><text x="286.74" y="26.80" font-size="22.4" font-weight="bold" textLength="137.80" lengthAdjust="spacingAndGlyphs" stroke="#000" stroke-width="0.9">ASSEMBLY,</text><text x="431.67" y="26.80" font-size="22.4" font-weight="bold" textLength="80.55" lengthAdjust="spacingAndGlyphs" stroke="#000" stroke-width="0.9">FRONT</text><text x="520.27" y="26.80" font-size="22.4" font-weight="bold" textLength="50.04" lengthAdjust="spacingAndGlyphs" stroke="#000" stroke-width="0.9">AND</text><text x="577.49" y="26.80" font-size="22.4" font-weight="bold" textLength="65.55" lengthAdjust="spacingAndGlyphs" stroke="#000" stroke-width="0.9">REAR</text>
</svg>
</body></html>
